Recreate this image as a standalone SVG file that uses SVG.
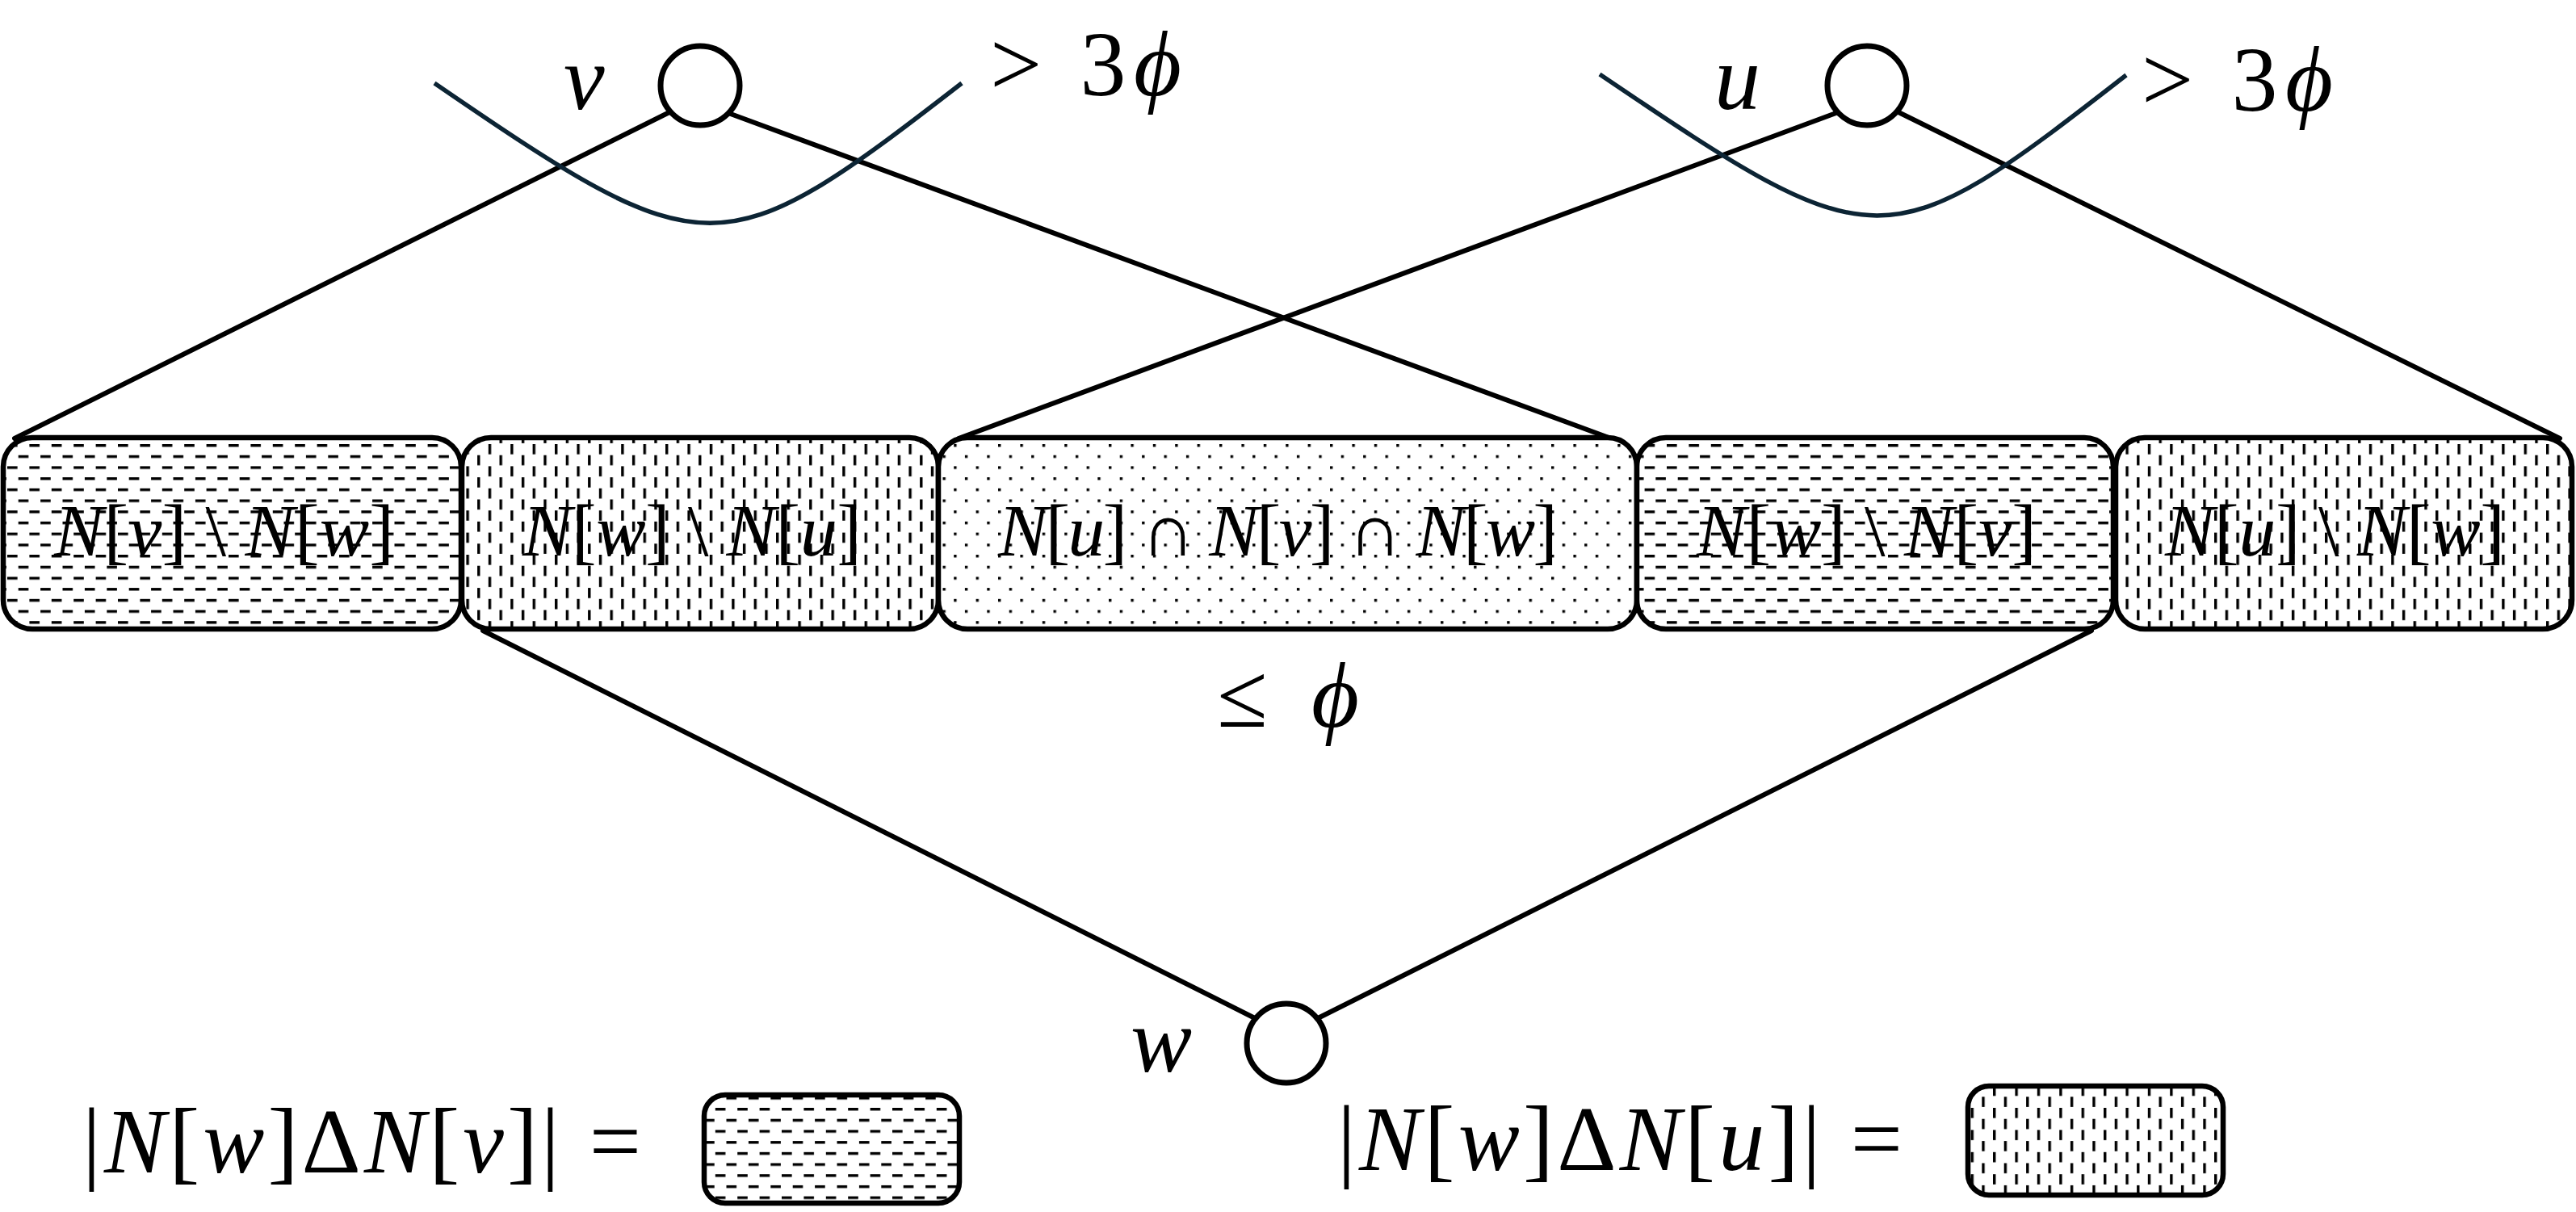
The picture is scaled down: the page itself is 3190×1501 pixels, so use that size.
<svg xmlns="http://www.w3.org/2000/svg" width="3190" height="1501" viewBox="0 0 3190 1501">
<style>
.m{font-family:"Liberation Serif","DejaVu Serif",serif;fill:#000}
.i{font-style:italic}
.lbl{font-size:92px}
.big{font-size:114px}
.leg{font-size:114px}
.box{stroke:#000;stroke-width:6.5}
.ln{stroke:#000;stroke-width:6;fill:none;stroke-linecap:round}
.crv{stroke:#0c2434;stroke-width:5.5;fill:none}
.nd{fill:#fff;stroke:#000;stroke-width:7}
</style>
<defs>
<pattern id="hd" patternUnits="userSpaceOnUse" x="9" y="2" width="27.4" height="27.4">
<rect x="0" y="0" width="12.6" height="3.4" fill="#000"/>
<rect x="13.7" y="13.7" width="12.6" height="3.4" fill="#000"/>
</pattern>
<pattern id="vd" patternUnits="userSpaceOnUse" x="2" y="2" width="27.4" height="27.4">
<rect x="0" y="0" width="3.4" height="12.6" fill="#000"/>
<rect x="13.7" y="13.7" width="3.4" height="12.6" fill="#000"/>
</pattern>
<pattern id="dt" patternUnits="userSpaceOnUse" x="3" y="2" width="27.4" height="27.4">
<rect x="0" y="0" width="3.4" height="3.4" fill="#000"/>
<rect x="13.7" y="13.7" width="3.4" height="3.4" fill="#000"/>
</pattern>
</defs>
<rect x="0" y="0" width="3190" height="1501" fill="#fff"/>

<g id="connectors">
<line class="ln" x1="831" y1="138" x2="18" y2="543"/>
<line class="ln" x1="902" y1="140" x2="1995" y2="543"/>
<line class="ln" x1="2279" y1="138" x2="1187" y2="543"/>
<line class="ln" x1="2349" y1="138" x2="3170" y2="543"/>
<line class="ln" x1="598" y1="781" x2="1558" y2="1263"/>
<line class="ln" x1="2590" y1="781" x2="1628" y2="1263"/>
<path class="crv" d="M538,103 C875,334 893,334 1191,103"/>
<path class="crv" d="M1981,92 C2325,325 2335,325 2633,93"/>
</g>

<g id="box-1">
<rect x="4" y="542" width="567" height="237" rx="36" ry="36" fill="#fff"/>
<rect class="box" x="4" y="542" width="567" height="237" rx="36" ry="36" fill="url(#hd)"/>
<text class="m lbl" x="67" y="688" textLength="421" lengthAdjust="spacing"><tspan class="i">N</tspan>[<tspan class="i">v</tspan>] \ <tspan class="i">N</tspan>[<tspan class="i">w</tspan>]</text>
</g>
<g id="box-2">
<rect x="572" y="542" width="590" height="237" rx="36" ry="36" fill="#fff"/>
<rect class="box" x="572" y="542" width="590" height="237" rx="36" ry="36" fill="url(#vd)"/>
<text class="m lbl" x="647" y="688" textLength="420" lengthAdjust="spacing"><tspan class="i">N</tspan>[<tspan class="i">w</tspan>] \ <tspan class="i">N</tspan>[<tspan class="i">u</tspan>]</text>
</g>
<g id="box-3">
<rect x="1162" y="542" width="865" height="237" rx="36" ry="36" fill="#fff"/>
<rect class="box" x="1162" y="542" width="865" height="237" rx="36" ry="36" fill="url(#dt)"/>
<text class="m lbl" x="1236" y="688" textLength="693" lengthAdjust="spacing"><tspan class="i">N</tspan>[<tspan class="i">u</tspan>] ∩ <tspan class="i">N</tspan>[<tspan class="i">v</tspan>] ∩ <tspan class="i">N</tspan>[<tspan class="i">w</tspan>]</text>
</g>
<g id="box-4">
<rect x="2027" y="542" width="590" height="237" rx="36" ry="36" fill="#fff"/>
<rect class="box" x="2027" y="542" width="590" height="237" rx="36" ry="36" fill="url(#hd)"/>
<text class="m lbl" x="2101" y="688" textLength="421" lengthAdjust="spacing"><tspan class="i">N</tspan>[<tspan class="i">w</tspan>] \ <tspan class="i">N</tspan>[<tspan class="i">v</tspan>]</text>
</g>
<g id="box-5">
<rect x="2620" y="542" width="565" height="237" rx="36" ry="36" fill="#fff"/>
<rect class="box" x="2620" y="542" width="565" height="237" rx="36" ry="36" fill="url(#vd)"/>
<text class="m lbl" x="2681" y="688" textLength="421" lengthAdjust="spacing"><tspan class="i">N</tspan>[<tspan class="i">u</tspan>] \ <tspan class="i">N</tspan>[<tspan class="i">w</tspan>]</text>
</g>

<g id="node-v">
<circle class="nd" cx="867" cy="106" r="49"/>
<text class="m big i" x="698" y="135">v</text>
<text class="m big" x="1226" y="118" textLength="237" lengthAdjust="spacing">&gt; 3<tspan class="i">ϕ</tspan></text>
</g>
<g id="node-u">
<circle class="nd" cx="2312" cy="106" r="49"/>
<text class="m big i" x="2123" y="135">u</text>
<text class="m big" x="2652" y="137" textLength="237" lengthAdjust="spacing">&gt; 3<tspan class="i">ϕ</tspan></text>
</g>
<g id="node-w">
<circle class="nd" cx="1593" cy="1292" r="49"/>
<text class="m big i" x="1400" y="1327">w</text>
</g>

<g id="label-le">
<text class="m big" x="1507" y="900" textLength="176" lengthAdjust="spacing">≤ <tspan class="i">ϕ</tspan></text>
</g>

<g id="legend-v">
<text class="m leg" x="102" y="1452" textLength="692" lengthAdjust="spacing">|<tspan class="i">N</tspan>[<tspan class="i">w</tspan>]Δ<tspan class="i">N</tspan>[<tspan class="i">v</tspan>]| =</text>
<rect x="872" y="1356" width="316" height="134" rx="26" ry="26" fill="#fff"/>
<rect class="box" x="872" y="1356" width="316" height="134" rx="26" ry="26" fill="url(#hd)"/>
</g>
<g id="legend-u">
<text class="m leg" x="1656" y="1449" textLength="700" lengthAdjust="spacing">|<tspan class="i">N</tspan>[<tspan class="i">w</tspan>]Δ<tspan class="i">N</tspan>[<tspan class="i">u</tspan>]| =</text>
<rect x="2437" y="1345" width="316" height="135" rx="26" ry="26" fill="#fff"/>
<rect class="box" x="2437" y="1345" width="316" height="135" rx="26" ry="26" fill="url(#vd)"/>
</g>
</svg>
